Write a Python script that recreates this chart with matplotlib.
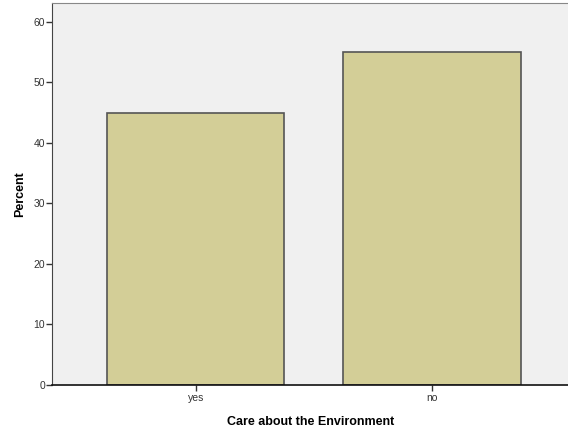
import matplotlib
matplotlib.use("Agg")
import matplotlib.pyplot as plt

categories = ["yes", "no"]
percent = [45, 55]
yticks = [0, 10, 20, 30, 40, 50, 60]

plt.rcParams['font.family'] = ['Liberation Sans', 'DejaVu Sans']

fig = plt.figure(figsize=(5.68, 4.29), dpi=100)
ax = fig.add_axes([52/568, 1-385/429, 1.0 - 52/568 + 0.002, 382/429])
ax.set_facecolor('#F0F0F0')
x = list(range(len(categories)))
ax.bar(x, percent, width=0.75, color='#D3CE97', edgecolor='#555555', linewidth=1.2, zorder=2)
ax.set_xlim(-0.608, 1.58)
ax.set_ylim(0, 63.1)
ax.set_yticks(yticks)
ax.set_yticklabels([str(t) for t in yticks])
ax.set_xticks(x)
ax.set_xticklabels(categories)
ax.tick_params(axis='both', labelsize=7.5, colors='#333333', length=4, width=1)
ax.tick_params(axis='y', pad=1)
ax.tick_params(axis='x', pad=2)
for side in ['top', 'right']:
    ax.spines[side].set_color('#888888')
ax.spines['left'].set_color('#444444')
ax.spines['bottom'].set_color('#111111')
ax.spines['bottom'].set_linewidth(1.2)
ax.set_ylabel('Percent', fontsize=9, fontweight='bold', labelpad=5)
ax.set_xlabel('Care about the Environment', fontsize=9, fontweight='bold', labelpad=9)
fig.savefig('out.png', dpi=100)
